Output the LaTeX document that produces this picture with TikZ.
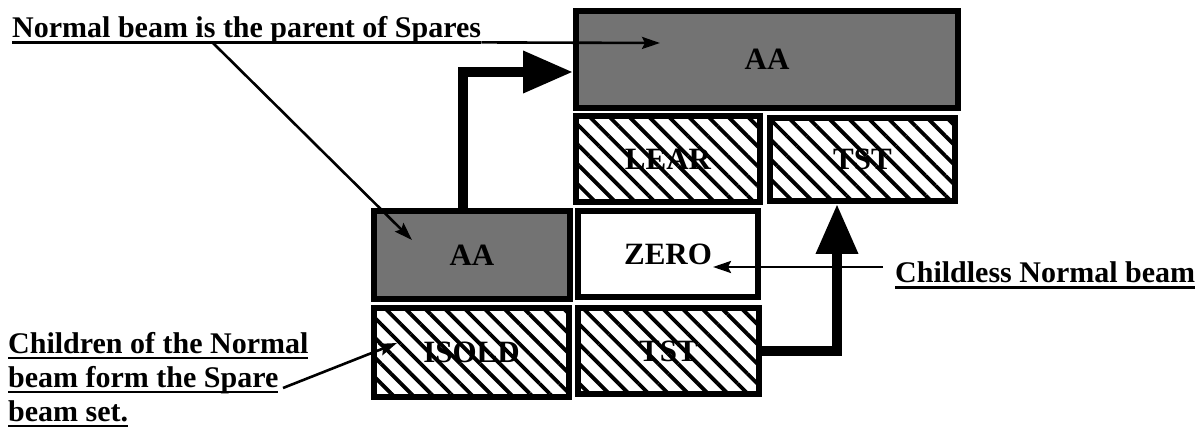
\documentclass[tikz,border=0pt]{standalone}
\usepackage{fontspec}
\setmainfont{Liberation Serif}
\usetikzlibrary{arrows.meta,patterns.meta}

% underline set 3.3pt--5.5pt below the baseline
\newcommand{\beamline}[1]{\setbox0\hbox{#1}\rlap{\vrule height -3.3pt depth 5.6pt width \wd0}\box0}

\tikzset{
  beam/.style={draw, line width=6pt, inner sep=0pt, minimum height=86pt,
    font=\fontsize{31}{34}\bfseries\selectfont},
  normal/.style={beam, fill=black!55},
  spare/.style={beam, pattern={Lines[angle=-45,distance=14pt,line width=3.8pt]}},
  childless/.style={beam, fill=white},
  caption/.style={inner sep=0pt, align=left, font=\fontsize{30}{34}\bfseries\selectfont},
  lead/.style={line width=2.6pt, -{Stealth[length=18pt,width=12pt,inset=3pt]}},
  link/.style={line width=10pt, line join=miter, -{Triangle[length=50pt,width=40pt]}}
}

\begin{document}
\begin{tikzpicture}[x=1pt,y=-1pt]
   \useasboundingbox (0,0) rectangle (1203,438);

% Beams
   \node[normal, minimum width=382pt, minimum height=97pt] (topAA) at (767,59.5) {AA};
   \node[spare, minimum width=184pt] (lear) at (668,159) {LEAR};
   \node[spare, minimum width=185pt, minimum height=83pt] (topTST) at (862.5,159.5) {TST};
   \node[normal, minimum width=196pt, minimum height=88pt] (lowAA) at (472,255) {AA};
   \node[childless, minimum width=180pt] (zero) at (668,254) {ZERO};
   \node[spare, minimum width=195pt, minimum height=89pt] (isold) at (471.5,352.5) {ISOLD};
   \node[spare, minimum width=181pt] (lowTST) at (668.5,351) {TST};

% Captions
   \node[caption, anchor=base west] (parentcap) at (12,38) {\beamline{Normal beam is the parent of Spares}};
   \node[caption, anchor=base west] (childcap) at (895,283) {\beamline{Childless Normal beam}};
   \node[caption, anchor=north west] (sparecap) at (8,332)
      {\beamline{Children of the Normal}\\ \beamline{beam form the Spare}\\ \beamline{beam set.}};

   \coordinate (parentfoot) at (213,43);
   \coordinate (parenttip) at (660,43);
   \coordinate (lowAAtip) at (412,240);
   \coordinate (zerofoot) at (883,267);
   \coordinate (zerotip) at (713,267);
   \coordinate (sparefoot) at (283,388);
   \coordinate (isoldtip) at (397,343);

% Parent links
   \draw[link] ([xshift=-9pt]lowAA.north) |- ([yshift=-12.5pt]topAA.west);
   \draw[link] (lowTST.east) -| ([xshift=-25.5pt]topTST.south);

% Caption leads
   \draw[lead] ([yshift=-4.4pt]parentcap.base east) -- (parenttip);
   \draw[lead] (parentfoot) -- (lowAAtip);
   \draw[lead] (zerofoot) -- (zerotip);
   \draw[lead] (sparefoot) -- (isoldtip);

\end{tikzpicture}
\end{document}
